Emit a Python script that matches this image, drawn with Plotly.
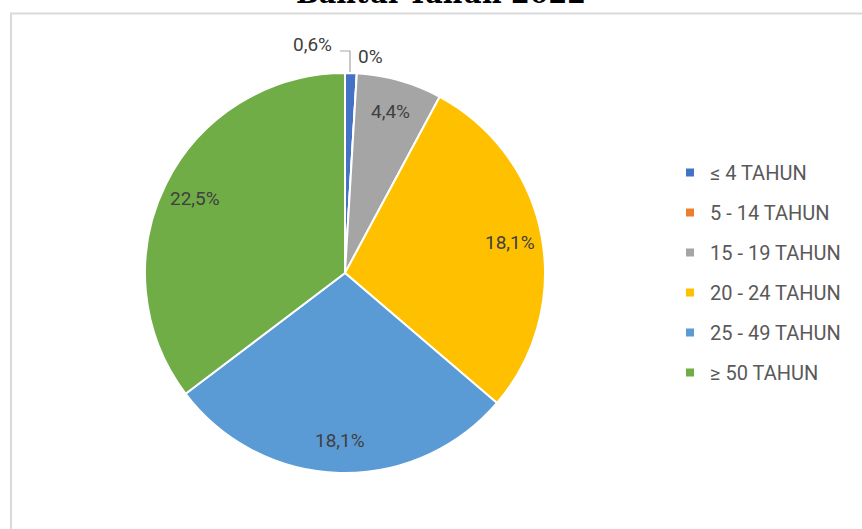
import math
import plotly.graph_objects as go

W, H = 862, 529

# data
labels = ["≤ 4 TAHUN", "5 - 14 TAHUN", "15 - 19 TAHUN",
          "20 - 24 TAHUN", "25 - 49 TAHUN", "≥ 50 TAHUN"]
values = [0.6, 0, 4.4, 18.1, 18.1, 22.5]
colors = ["#4472C4", "#ED7D31", "#A5A5A5", "#FFC000", "#5B9BD5", "#70AD47"]
title_text = "Bantul Tahun 2022"

# pie geometry (screen pixels)
CX, CY, R = 345, 273, 200
LABEL_R = 0.84


def pct(v):
    return f"{v:g}".replace(".", ",") + "%"


def px_x(x):
    return x / W


def px_y(y):
    return 1 - y / H


texts = [pct(v) for v in values]
total = sum(values)
lab_font = dict(family="Roboto", size=19, color="#404040")

fig = go.Figure()

fig.add_trace(go.Pie(
    labels=labels,
    values=values,
    textinfo="none",
    marker=dict(colors=colors, line=dict(color="white", width=2)),
    sort=False,
    direction="clockwise",
    rotation=0,
    showlegend=False,
    hoverinfo="label+percent",
    domain=dict(x=[px_x(CX - R), px_x(CX + R)], y=[px_y(CY + R), px_y(CY - R)]),
))

# legend entries (one group each so the rows can be spaced out)
for i, (lab, col) in enumerate(zip(labels, colors)):
    fig.add_trace(go.Scatter(
        x=[None], y=[None],
        mode="markers",
        name=lab,
        legendgroup=f"g{i}",
        marker=dict(symbol="square", size=8, color=col),
    ))

annotations = [
    dict(text=f"<b>{title_text}</b>", xref="paper", yref="paper",
         x=px_x(441), y=px_y(11.5), xanchor="center", yanchor="bottom",
         showarrow=False,
         font=dict(family="DejaVu Serif", size=27, color="#000000")),
    # small slices: labels outside
    dict(text=texts[0], xref="paper", yref="paper",
         x=px_x(312), y=px_y(44), xanchor="center", yanchor="middle",
         showarrow=False, font=lab_font),
    dict(text=texts[1], xref="paper", yref="paper",
         x=px_x(370), y=px_y(56), xanchor="center", yanchor="middle",
         showarrow=False, font=lab_font),
]

# big slices: labels placed along the mid angle of each slice
cum = 0
for v, t in zip(values, texts):
    mid = (cum + v / 2) / total * 2 * math.pi
    cum += v
    if v < 1:
        continue
    lx = CX + LABEL_R * R * math.sin(mid)
    ly = CY - LABEL_R * R * math.cos(mid)
    annotations.append(dict(
        text=t, xref="paper", yref="paper",
        x=px_x(lx), y=px_y(ly), xanchor="center", yanchor="middle",
        showarrow=False, font=lab_font))

fig.update_layout(
    width=W, height=H,
    margin=dict(l=0, r=0, t=0, b=0),
    paper_bgcolor="white",
    plot_bgcolor="white",
    xaxis=dict(visible=False),
    yaxis=dict(visible=False),
    legend=dict(
        x=px_x(670), y=px_y(153),
        xanchor="left", yanchor="top",
        font=dict(family="Roboto", size=20, color="#595959"),
        tracegroupgap=11,
        bgcolor="rgba(0,0,0,0)",
    ),
    shapes=[
        dict(type="rect", xref="paper", yref="paper",
             x0=px_x(11), x1=px_x(W + 40), y0=px_y(H + 40), y1=px_y(13.5),
             line=dict(color="#D9D9D9", width=2), fillcolor="rgba(0,0,0,0)"),
        # leader line for the 0,6% label
        dict(type="path", xref="paper", yref="paper",
             path=(f"M {px_x(340)} {px_y(51)} L {px_x(350)} {px_y(51)} "
                   f"L {px_x(350)} {px_y(72)}"),
             line=dict(color="#A6A6A6", width=1.2)),
    ],
    annotations=annotations,
)

# drop the default page margin so the figure sits at the window's corner
fig.write_html("out.html", config={"displayModeBar": False},
               post_script="document.body.style.margin='0';")
